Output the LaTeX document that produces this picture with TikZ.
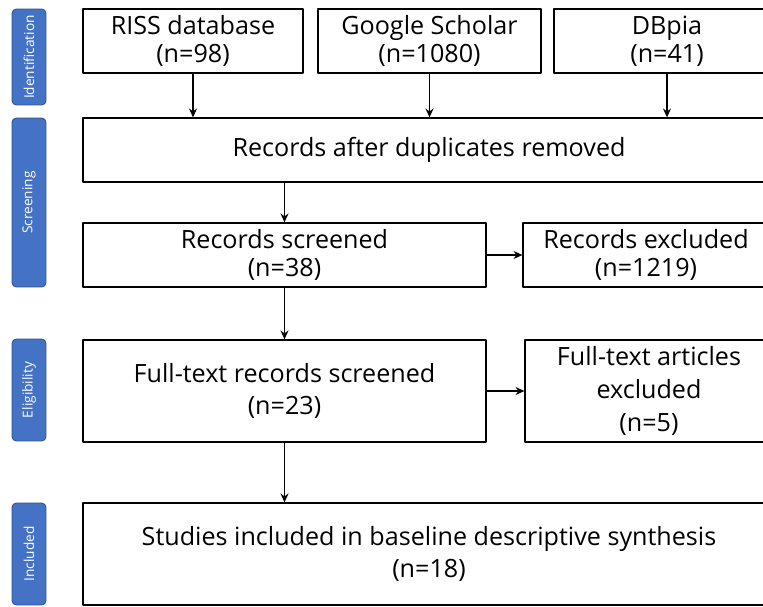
\documentclass[tikz,border=0pt]{standalone}
\usepackage{fontspec}
\setmainfont{Open Sans}
\usepackage{tikz}
\usetikzlibrary{arrows.meta}
\definecolor{stageblue}{HTML}{4472C4}
\definecolor{stageedge}{HTML}{2F528F}
\tikzset{
  every picture/.style={line join=round, >=Stealth},
  box/.style={draw, line width=0.75pt, align=center, inner sep=0pt,
    font=\fontsize{14.3}{16}\selectfont},
  tallbox/.style={box, font=\fontsize{14.3}{18.6}\selectfont},
  stage/.style={draw=stageedge, fill=stageblue, text=white, rounded corners=2.5pt,
    rotate=90, minimum height=0.68cm, inner sep=0pt, line width=0.5pt,
    font=\fontsize{7.8}{9}\selectfont},
  flow/.style={->, line width=0.85pt, >={Stealth[length=5pt,width=4.5pt]}},
}

\begin{document}
\begin{tikzpicture}[x=0.02cm,y=-0.02cm]
\clip (0,0) rectangle (763,607);
\fill[white] (0,0) rectangle (763,607);
% stage labels on the left
\node[stage,minimum width=1.92cm] (ident) at (29,57) {Identification};
\node[stage,minimum width=3.38cm] (screen) at (29,202.5) {Screening};
\node[stage,minimum width=2.04cm] (elig) at (29,390) {Eligibility};
\node[stage,minimum width=2.04cm] (incl) at (29,554) {Included};
% sources
\node[box,minimum width=4.4cm,minimum height=1.28cm] (riss) at (193,41) {RISS database\\(n=98)};
\node[box,minimum width=4.46cm,minimum height=1.28cm] (scholar) at (429.5,41) {Google Scholar\\(n=1080)};
\node[box,minimum width=4.52cm,minimum height=1.28cm] (dbpia) at (667,41) {DBpia\\(n=41)};
% screening
\node[box,minimum width=13.84cm,minimum height=1.28cm] (dedup) at (429,150) {Records after duplicates removed};
\node[box,minimum width=8.06cm,minimum height=1.28cm] (screened) at (284.5,255) {Records screened\\(n=38)};
\node[box,minimum width=4.92cm,minimum height=1.28cm] (excluded) at (646,255) {Records excluded\\(n=1219)};
% eligibility and inclusion
\node[tallbox,minimum width=8.06cm,minimum height=2.04cm] (fulltext) at (284.5,391) {Full-text records screened\\(n=23)};
\node[tallbox,minimum width=4.96cm,minimum height=2.04cm] (ftexcl) at (649,391) {Full-text articles\\excluded\\(n=5)};
\node[tallbox,minimum width=13.84cm,minimum height=2.04cm] (studies) at (429,554) {Studies included in baseline descriptive synthesis\\(n=18)};
% connectors
\draw[flow] (riss) -- (riss |- dedup.north);
\draw[flow] (scholar) -- (scholar |- dedup.north);
\draw[flow] (dbpia) -- (dbpia |- dedup.north);
\draw[flow] (screened |- dedup.south) -- (screened);
\draw[flow] (screened) -- (excluded);
\draw[flow] (screened) -- (fulltext);
\draw[flow] (fulltext) -- (ftexcl);
\draw[flow] (fulltext) -- (fulltext |- studies.north);
\end{tikzpicture}
\end{document}
